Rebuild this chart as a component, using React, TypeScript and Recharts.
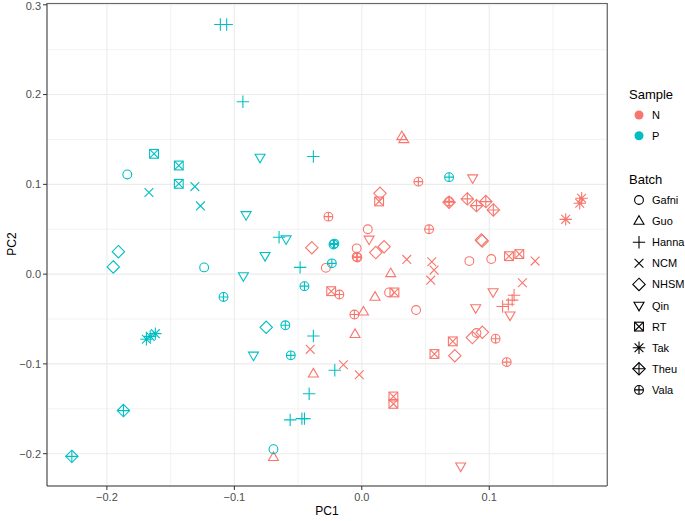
import { ScatterChart, Scatter, XAxis, YAxis, CartesianGrid } from "recharts";

const FONT = "'Liberation Sans', Arial, sans-serif";

const BATCHES = ["Gafni", "Guo", "Hanna", "NCM", "NHSM", "Qin", "RT", "Tak", "Theu", "Vala"];
const SAMPLES = ["N", "P"];
const SAMPLE_COLORS = ["#F8766D", "#00BFC4"];

const X_TICKS = [-0.2, -0.1, 0, 0.1];
const Y_TICKS = [-0.2, -0.1, 0, 0.1, 0.2, 0.3];
const X_MINOR = [-0.15, -0.05, 0.05, 0.15];
const Y_MINOR = [-0.15, -0.05, 0.05, 0.15, 0.25];

// [batch, PC1, PC2]
const N_POINTS: [string, number, number][] = [
  ["Gafni", 0.0047, 0.05], ["Gafni", -0.004, 0.0287], ["Gafni", -0.0282, 0.007],
  ["Gafni", 0.0214, -0.0204], ["Gafni", 0.0426, -0.04], ["Gafni", 0.0844, 0.0145],
  ["Gafni", 0.1016, 0.0168], ["Gafni", 0.09, -0.0656],
  ["Guo", 0.0314, 0.1534], ["Guo", 0.033, 0.15], ["Guo", 0.0227, 0.0008],
  ["Guo", 0.0104, -0.0255], ["Guo", 0.0013, -0.042], ["Guo", -0.0053, -0.067],
  ["Guo", -0.038, -0.111], ["Guo", -0.0693, -0.204],
  ["Hanna", 0.1195, -0.0235], ["Hanna", 0.118, -0.029], ["Hanna", 0.115, -0.0335],
  ["Hanna", 0.1105, -0.036],
  ["NCM", 0.0353, 0.0164], ["NCM", 0.0549, 0.0138], ["NCM", 0.0567, 0.0045],
  ["NCM", 0.0541, -0.0067], ["NCM", 0.136, 0.0145], ["NCM", 0.126, -0.0097],
  ["NCM", -0.0405, -0.0838], ["NCM", -0.0144, -0.101], ["NCM", -0.002, -0.112],
  ["NHSM", 0.0143, 0.09], ["NHSM", -0.0392, 0.0294], ["NHSM", 0.011, 0.024],
  ["NHSM", 0.0175, 0.0305], ["NHSM", 0.0938, 0.038], ["NHSM", 0.0945, 0.037],
  ["NHSM", 0.073, -0.0909], ["NHSM", 0.0868, -0.0707], ["NHSM", 0.0946, -0.0648],
  ["Qin", 0.0057, 0.0388], ["Qin", 0.087, 0.107], ["Qin", 0.103, -0.0198],
  ["Qin", 0.0894, -0.0376], ["Qin", 0.1163, -0.0458], ["Qin", 0.0776, -0.214],
  ["RT", 0.0136, 0.081], ["RT", -0.024, -0.019], ["RT", 0.0256, -0.0204],
  ["RT", 0.1155, 0.02], ["RT", 0.1236, 0.0223], ["RT", 0.0714, -0.0749],
  ["RT", 0.057, -0.089], ["RT", 0.0248, -0.1363], ["RT", 0.0248, -0.1445],
  ["Tak", 0.1725, 0.0846], ["Tak", 0.171, 0.079], ["Tak", 0.16, 0.061],
  ["Theu", 0.0685, 0.08], ["Theu", 0.0828, 0.0838], ["Theu", 0.09, 0.0763],
  ["Theu", 0.0973, 0.0808], ["Theu", 0.1032, 0.0715],
  ["Vala", -0.0262, 0.064], ["Vala", 0.0444, 0.103], ["Vala", 0.0528, 0.05],
  ["Vala", -0.004, 0.0193], ["Vala", -0.0035, 0.0185], ["Vala", 0.0685, 0.081],
  ["Vala", -0.0176, -0.0227], ["Vala", -0.0058, -0.045], ["Vala", 0.105, -0.0719],
  ["Vala", 0.1137, -0.098],
];

const P_POINTS: [string, number, number][] = [
  ["Gafni", -0.184, 0.111], ["Gafni", -0.1237, 0.0075], ["Gafni", -0.0693, -0.195],
  ["Hanna", -0.111, 0.278], ["Hanna", -0.106, 0.278], ["Hanna", -0.0933, 0.192],
  ["Hanna", -0.038, 0.131], ["Hanna", -0.0649, 0.041], ["Hanna", -0.0484, 0.0075],
  ["Hanna", -0.038, -0.069], ["Hanna", -0.0212, -0.107], ["Hanna", -0.0413, -0.1333],
  ["Hanna", -0.0562, -0.1624], ["Hanna", -0.047, -0.161], ["Hanna", -0.045, -0.161],
  ["NCM", -0.167, 0.091], ["NCM", -0.131, 0.0975], ["NCM", -0.1266, 0.076],
  ["NHSM", -0.191, 0.025], ["NHSM", -0.195, 0.008], ["NHSM", -0.075, -0.0592],
  ["Qin", -0.0798, 0.13], ["Qin", -0.0908, 0.066], ["Qin", -0.0594, 0.039],
  ["Qin", -0.0759, 0.0205], ["Qin", -0.0929, -0.002], ["Qin", -0.085, -0.0905],
  ["RT", -0.163, 0.134], ["RT", -0.1436, 0.121], ["RT", -0.1436, 0.1006],
  ["Tak", -0.169, -0.0726], ["Tak", -0.166, -0.0693], ["Tak", -0.162, -0.0663],
  ["Theu", -0.187, -0.152], ["Theu", -0.2275, -0.203],
  ["Vala", -0.1085, -0.0254], ["Vala", -0.0222, 0.033], ["Vala", -0.0215, 0.034],
  ["Vala", -0.0235, 0.012], ["Vala", -0.045, -0.0134], ["Vala", -0.06, -0.057],
  ["Vala", -0.0557, -0.0905], ["Vala", 0.0685, 0.108],
];

const toRows = (pts: [string, number, number][]) =>
  pts.map(([batch, pc1, pc2]) => ({ batch, pc1, pc2 }));

function Glyph({ batch, x, y, color }: { batch: string; x: number; y: number; color: string }) {
  const s = { fill: "none", stroke: color, strokeWidth: 1.1 };
  const r = 4.4;
  const d = 6.2;
  switch (batch) {
    case "Gafni":
      return <circle cx={x} cy={y} r={r} {...s} />;
    case "Guo":
      return <polygon points={`${x},${y - 5.4} ${x + 5},${y + 3.2} ${x - 5},${y + 3.2}`} {...s} />;
    case "Hanna":
      return <path d={`M${x - d},${y}H${x + d}M${x},${y - d}V${y + d}`} {...s} />;
    case "NCM":
      return <path d={`M${x - r},${y - r}L${x + r},${y + r}M${x - r},${y + r}L${x + r},${y - r}`} {...s} />;
    case "NHSM":
      return <polygon points={`${x},${y - d} ${x + d},${y} ${x},${y + d} ${x - d},${y}`} {...s} />;
    case "Qin":
      return <polygon points={`${x},${y + 5.4} ${x + 5},${y - 3.2} ${x - 5},${y - 3.2}`} {...s} />;
    case "RT":
      return (
        <g {...s}>
          <rect x={x - r} y={y - r} width={2 * r} height={2 * r} />
          <path d={`M${x - r},${y - r}L${x + r},${y + r}M${x - r},${y + r}L${x + r},${y - r}`} />
        </g>
      );
    case "Tak":
      return (
        <path
          d={`M${x - d},${y}H${x + d}M${x},${y - d}V${y + d}M${x - r},${y - r}L${x + r},${y + r}M${x - r},${y + r}L${x + r},${y - r}`}
          {...s}
        />
      );
    case "Theu":
      return (
        <g {...s}>
          <polygon points={`${x},${y - d} ${x + d},${y} ${x},${y + d} ${x - d},${y}`} />
          <path d={`M${x - d},${y}H${x + d}M${x},${y - d}V${y + d}`} />
        </g>
      );
    default:
      return (
        <g {...s}>
          <circle cx={x} cy={y} r={r} />
          <path d={`M${x - r},${y}H${x + r}M${x},${y - r}V${y + r}`} />
        </g>
      );
  }
}

const fmt = (v: number) => v.toFixed(1).replace("-", "\u2212");
const tickStyle = { fill: "#4D4D4D", fontSize: 11, fontFamily: FONT };

export default function App() {
  const series = [toRows(N_POINTS), toRows(P_POINTS)];
  return (
    <div style={{ position: "absolute", left: 0, top: 0, width: 685, height: 521, background: "#fff", fontFamily: FONT }}>
      <ScatterChart width={685} height={521} margin={{ top: 3, right: 78, bottom: 0, left: 0 }}>
        <CartesianGrid stroke="#EBEBEB" strokeWidth={0.6} horizontalValues={Y_MINOR} verticalValues={X_MINOR} />
        <CartesianGrid stroke="#EBEBEB" strokeWidth={1.1} />
        <XAxis
          type="number"
          dataKey="pc1"
          domain={[-0.247, 0.1924]}
          ticks={X_TICKS}
          allowDataOverflow
          height={35}
          tickFormatter={fmt}
          tick={tickStyle}
          tickSize={4}
          tickMargin={3}
          tickLine={{ stroke: "#333" }}
          axisLine={{ stroke: "#333" }}
        />
        <YAxis
          type="number"
          dataKey="pc2"
          domain={[-0.236, 0.302]}
          ticks={Y_TICKS}
          allowDataOverflow
          width={47}
          tickFormatter={fmt}
          tick={tickStyle}
          tickSize={4}
          tickMargin={2}
          tickLine={{ stroke: "#333" }}
          axisLine={{ stroke: "#333" }}
        />
        {SAMPLES.map((s, i) => (
          <Scatter
            key={s}
            name={s}
            data={series[i]}
            isAnimationActive={false}
            shape={(p: any) => <Glyph batch={p.payload.batch} x={p.cx} y={p.cy} color={SAMPLE_COLORS[i]} />}
          />
        ))}
      </ScatterChart>
      <svg width={685} height={521} style={{ position: "absolute", left: 0, top: 0, pointerEvents: "none" }}>
        <path d="M47,3.5H607.3V486" fill="none" stroke="#666" strokeWidth={1.2} />
        <text x={327} y={515} textAnchor="middle" fontSize={12} fill="#000">PC1</text>
        <text x={16} y={244} textAnchor="middle" fontSize={12} fill="#000" transform="rotate(-90 16 244)">PC2</text>
        <text x={629} y={99} fontSize={13} fill="#000">Sample</text>
        {SAMPLES.map((s, i) => (
          <g key={s}>
            <circle cx={639} cy={115 + i * 20.7} r={4.5} fill={SAMPLE_COLORS[i]} />
            <text x={652} y={115 + i * 20.7} fontSize={11} dominantBaseline="central" fill="#000">{s}</text>
          </g>
        ))}
        <text x={629} y={184} fontSize={13} fill="#000">Batch</text>
        {BATCHES.map((b, i) => (
          <g key={b}>
            <Glyph batch={b} x={639} y={200 + i * 21.1} color="#000" />
            <text x={652} y={200 + i * 21.1} fontSize={11} dominantBaseline="central" fill="#000">{b}</text>
          </g>
        ))}
      </svg>
    </div>
  );
}
